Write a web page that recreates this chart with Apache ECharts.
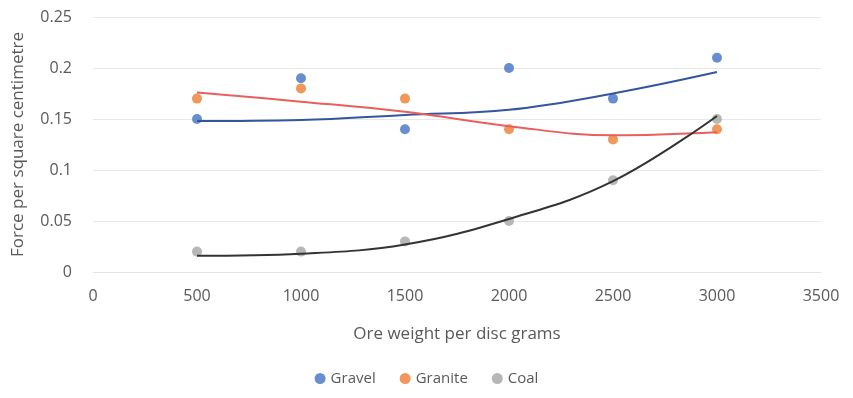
<!DOCTYPE html>
<html><head><meta charset="utf-8">
<script src="https://cdn.jsdelivr.net/npm/echarts@6/dist/echarts.min.js"></script>
<style>html,body{margin:0;padding:0;background:#fff}#c{width:853px;height:398px}</style>
</head><body><div id="c"></div>
<script>
const xValues = [500, 1000, 1500, 2000, 2500, 3000];
const gravel = [0.15, 0.19, 0.14, 0.20, 0.17, 0.21];
const granite = [0.17, 0.18, 0.17, 0.14, 0.13, 0.14];
const coal = [0.02, 0.02, 0.03, 0.05, 0.09, 0.15];
// trendline values at the same x positions
const gravelTrend = [0.148, 0.149, 0.154, 0.159, 0.175, 0.196];
const graniteTrend = [0.176, 0.167, 0.157, 0.143, 0.134, 0.137];
const coalTrend = [0.016, 0.018, 0.027, 0.052, 0.089, 0.153];
const seriesNames = ['Gravel', 'Granite', 'Coal'];
const yTicks = [0, 0.05, 0.1, 0.15, 0.2, 0.25];
const xTicks = [0, 500, 1000, 1500, 2000, 2500, 3000, 3500];

const pts = ys => xValues.map((x, i) => [x, ys[i]]);

const colors = ['#4472C4', '#ED7D31', '#A5A5A5'];
const trendColors = ['#34569c', '#e8605e', '#333333'];
const datas = [gravel, granite, coal];
const trends = [gravelTrend, graniteTrend, coalTrend];
const font = 'Open Sans, Liberation Sans, sans-serif';
const txt = '#595959';

const series = [];
datas.forEach((d, i) => {
  series.push({
    name: seriesNames[i], type: 'scatter', data: pts(d), symbolSize: 10,
    itemStyle: { color: colors[i] }, z: 2
  });
});
trends.forEach((d, i) => {
  series.push({
    name: seriesNames[i], type: 'line', data: pts(d),
    showSymbol: false, symbol: 'none', smooth: 0.4,
    lineStyle: { color: trendColors[i], width: 2 }, z: 3, silent: true
  });
});

const chart = echarts.init(document.getElementById('c'));
chart.setOption({
  animation: false,
  color: colors,
  grid: { left: 93, right: 32, top: 17, bottom: 126 },
  legend: {
    bottom: 7, left: 'center', itemWidth: 11, itemHeight: 11, itemGap: 24,
    data: seriesNames.map((n, i) => ({ name: n, icon: 'circle', itemStyle: { color: colors[i] } })),
    textStyle: { color: txt, fontSize: 15, fontFamily: font }
  },
  xAxis: {
    type: 'value', min: xTicks[0], max: xTicks[xTicks.length - 1], interval: 500,
    name: 'Ore weight per disc grams', nameLocation: 'middle', nameGap: 54,
    nameTextStyle: { color: txt, fontSize: 17, fontFamily: font },
    axisLine: { show: true, lineStyle: { color: '#e3e3e3' } },
    axisTick: { show: false },
    splitLine: { show: false },
    axisLabel: { color: txt, fontSize: 16, fontFamily: font, margin: 16, formatter: v => String(v) }
  },
  yAxis: {
    type: 'value', min: yTicks[0], max: yTicks[yTicks.length - 1], interval: 0.05,
    name: 'Force per square centimetre', nameLocation: 'middle', nameGap: 66,
    nameTextStyle: { color: txt, fontSize: 17, fontFamily: font },
    axisLine: { show: false }, axisTick: { show: false },
    splitLine: { lineStyle: { color: '#e8e8e8' } },
    axisLabel: { color: txt, fontSize: 16, fontFamily: font, margin: 21, formatter: v => String(+v.toFixed(2)) }
  },
  series: series
});
</script></body></html>
